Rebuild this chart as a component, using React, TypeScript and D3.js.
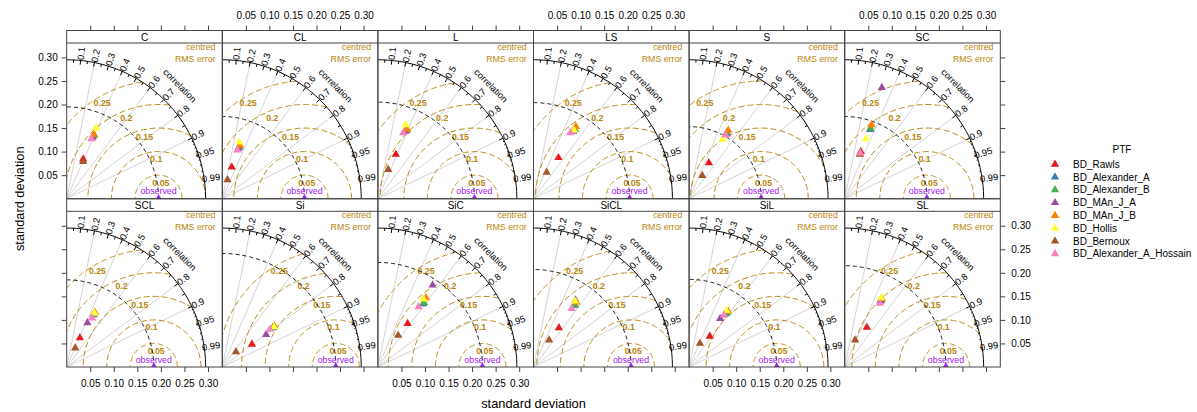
import React, { useEffect, useRef } from "react";
import * as d3 from "d3";

// soil texture classes, one Taylor diagram each
const soilClasses = ["C", "CL", "L", "LS", "S", "SC", "SCL", "Si", "SiC", "SiCL", "SiL", "SL"];

const ptfNames = [
  "BD_Rawls",
  "BD_Alexander_A",
  "BD_Alexander_B",
  "BD_MAn_J_A",
  "BD_MAn_J_B",
  "BD_Hollis",
  "BD_Bernoux",
  "BD_Alexander_A_Hossain",
];
const ptfColours = ["#E41A1C", "#377EB8", "#4DAF4A", "#984EA3", "#FF7F00", "#FFFF33", "#A65628", "#F781BF"];

// standard deviation of the observations, per soil class
const observedSd = [0.195, 0.1745, 0.205, 0.204, 0.153, 0.1745, 0.185, 0.241, 0.222, 0.207, 0.186, 0.215];

// model standard deviation and correlation, per soil class
const sdRawls = [0.091, 0.0699, 0.1014, 0.1019, 0.0868, 0.1056, 0.068, 0.0792, 0.1115, 0.099, 0.0785, 0.0963];
const corRawls = [0.385, 0.286, 0.375, 0.52, 0.484, 0.322, 0.412, 0.795, 0.565, 0.545, 0.56, 0.488];
const sdAlexA = [0.1456, 0.1157, 0.1569, 0.1694, 0.1604, 0.1566, 0.1248, 0.1354, 0.1648, 0.1573, 0.1373, 0.1607];
const corAlexA = [0.391, 0.311, 0.382, 0.508, 0.499, 0.345, 0.457, 0.79, 0.582, 0.553, 0.568, 0.479];
const sdAlexB = [0.1469, 0.116, 0.1586, 0.1713, 0.1626, 0.1598, 0.1261, 0.1368, 0.1684, 0.1586, 0.1401, 0.162];
const corAlexB = [0.395, 0.315, 0.391, 0.514, 0.498, 0.344, 0.46, 0.789, 0.582, 0.555, 0.571, 0.481];
const sdManA = [0.1412, 0.1123, 0.1543, 0.1658, 0.1568, 0.2489, 0.1038, 0.1158, 0.2091, 0.1676, 0.1223, 0.1593];
const corManA = [0.39, 0.303, 0.376, 0.507, 0.497, 0.317, 0.424, 0.803, 0.555, 0.531, 0.54, 0.477];
const sdManB = [0.1479, 0.1195, 0.1598, 0.1775, 0.1671, 0.167, 0.1306, 0.141, 0.1789, 0.1653, 0.1443, 0.1651];
const corManB = [0.392, 0.315, 0.385, 0.507, 0.497, 0.341, 0.459, 0.787, 0.57, 0.55, 0.575, 0.478];
const sdHollis = [0.1624, 0.1253, 0.1677, 0.1686, 0.1446, 0.1347, 0.1284, 0.139, 0.1734, 0.1654, 0.1437, 0.1659];
const corHollis = [0.384, 0.287, 0.352, 0.51, 0.491, 0.334, 0.46, 0.791, 0.557, 0.532, 0.55, 0.464];
const sdBernoux = [0.0864, 0.0415, 0.0658, 0.0626, 0.0564, 0.0993, 0.0439, 0.0432, 0.0796, 0.0659, 0.055, 0.0611];
const corBernoux = [0.405, 0.265, 0.334, 0.447, 0.496, 0.322, 0.41, 0.671, 0.54, 0.501, 0.418, 0.36];
const sdHossain = [0.1376, 0.1079, 0.1501, 0.1603, 0.1559, 0.1025, 0.1172, 0.1288, 0.1542, 0.1481, 0.1326, 0.1544];
const corHossain = [0.385, 0.297, 0.36, 0.487, 0.5, 0.322, 0.461, 0.784, 0.558, 0.547, 0.558, 0.486];

const modelSd = [sdRawls, sdAlexA, sdAlexB, sdManA, sdManB, sdHollis, sdBernoux, sdHossain];
const modelCor = [corRawls, corAlexA, corAlexB, corManA, corManB, corHollis, corBernoux, corHossain];

const axisTicks = [0.05, 0.1, 0.15, 0.2, 0.25, 0.3];
const rmsLevels = [0.05, 0.1, 0.15, 0.2, 0.25];
const corrGrid = [0.2, 0.4, 0.6, 0.8, 0.9];
const corrLabels = [0.1, 0.2, 0.3, 0.4, 0.5, 0.6, 0.7, 0.8, 0.9, 0.95, 0.99];

const W = 1197;
const H = 412;
const FONT = "'Liberation Sans', Arial, Helvetica, sans-serif";
const RMS_COL = "#B8860B";
const OBS_COL = "#A020F0";

const maxSd = 0.295;
const axisMax = maxSd * 1.12;
const panelLeft = 66.7;
const panelW = 155.6;
const rowTop = [30.5, 198.8];
const rowH = 168.2;
const stripH = 12.5;

export default function App() {
  const ref = useRef<SVGSVGElement>(null);

  useEffect(() => {
    const svg = d3.select(ref.current);
    svg.selectAll("*").remove();
    const defs = svg.append("defs");
    const tri = d3.symbol().type(d3.symbolTriangle).size(30);

    soilClasses.forEach((cls, i) => {
      const col = i % 6;
      const row = Math.floor(i / 6);
      const left = panelLeft + col * panelW;
      const top = rowTop[row];
      const bottom = top + rowH;
      const x = d3.scaleLinear().domain([0, axisMax]).range([left, left + panelW]);
      const y = d3.scaleLinear().domain([0, axisMax]).range([bottom, bottom - panelW]);
      const sdObs = observedSd[i];

      const clipId = "clip" + i;
      defs.append("clipPath").attr("id", clipId)
        .append("rect")
        .attr("x", left).attr("y", top + stripH)
        .attr("width", panelW).attr("height", rowH - stripH);

      const g = svg.append("g");
      const pg = g.append("g").attr("clip-path", `url(#${clipId})`);

      // correlation grid lines
      corrGrid.forEach((c) => {
        pg.append("line")
          .attr("x1", x(0)).attr("y1", y(0))
          .attr("x2", x(maxSd * c)).attr("y2", y(maxSd * Math.sqrt(1 - c * c)))
          .attr("stroke", "#cfcfcf").attr("stroke-width", 0.9);
      });

      const line = d3.line<[number, number]>().x((d) => x(d[0])).y((d) => y(d[1]));

      // centred RMS error arcs around the observed point
      rmsLevels.forEach((gm, k) => {
        const cStart = (maxSd * maxSd - sdObs * sdObs - gm * gm) / (2 * sdObs * gm);
        const tStart = cStart >= 1 ? 0 : Math.acos(Math.max(-1, cStart));
        const tEnd = gm > sdObs ? Math.acos(-sdObs / gm) : Math.PI;
        const pts: [number, number][] = d3.range(0, 121).map((j) => {
          const t = tStart + ((tEnd - tStart) * j) / 120;
          return [sdObs + gm * Math.cos(t), gm * Math.sin(t)];
        });
        pg.append("path").attr("d", line(pts))
          .attr("fill", "none").attr("stroke", RMS_COL)
          .attr("stroke-width", 1).attr("stroke-dasharray", "6,3");
        const a = (49 + 5 * k) * 0.03;
        pg.append("text")
          .attr("x", x(sdObs + gm * Math.cos(a)))
          .attr("y", y(gm * Math.sin(a)) + 7.5)
          .attr("text-anchor", "middle").attr("dominant-baseline", "central")
          .attr("font-size", 8.8).attr("font-weight", "bold")
          .attr("fill", RMS_COL).text(String(gm));
      });

      // observed standard deviation arc
      const obsArc: [number, number][] = d3.range(0, 91).map((j) => {
        const t = (Math.PI / 2) * (j / 90);
        return [sdObs * Math.cos(t), sdObs * Math.sin(t)];
      });
      pg.append("path").attr("d", line(obsArc))
        .attr("fill", "none").attr("stroke", "#000")
        .attr("stroke-width", 0.9).attr("stroke-dasharray", "4,3");

      // outer arc
      const outer: [number, number][] = d3.range(0, 91).map((j) => {
        const t = (Math.PI / 2) * (j / 90);
        return [maxSd * Math.cos(t), maxSd * Math.sin(t)];
      });
      pg.append("path").attr("d", line(outer))
        .attr("fill", "none").attr("stroke", "#000").attr("stroke-width", 1);

      const tickSeg = (c: number, inner: number) => {
        const t = Math.acos(c);
        pg.append("line")
          .attr("x1", x(maxSd * Math.cos(t))).attr("y1", y(maxSd * Math.sin(t)))
          .attr("x2", x(inner * maxSd * Math.cos(t))).attr("y2", y(inner * maxSd * Math.sin(t)))
          .attr("stroke", "#000").attr("stroke-width", 1);
      };
      d3.range(1, 10).forEach((j) => tickSeg(j / 10, 0.97));
      d3.range(0, 10).forEach((j) => tickSeg(0.05 + j / 10, 0.98));
      d3.range(91, 100).forEach((j) => tickSeg(j / 100, 0.99));

      // correlation labels
      corrLabels.forEach((c) => {
        const t = Math.acos(c);
        const px = x(1.05 * maxSd * Math.cos(t));
        const py = y(1.05 * maxSd * Math.sin(t));
        pg.append("text")
          .attr("transform", `translate(${px},${py}) rotate(${(-t * 180) / Math.PI})`)
          .attr("text-anchor", "middle").attr("dominant-baseline", "central")
          .attr("font-size", 9.3).attr("fill", "#000").text(String(c));
      });
      const cp = [x(1.15 * maxSd * Math.SQRT1_2), y(1.15 * maxSd * Math.SQRT1_2)];
      pg.append("text")
        .attr("transform", `translate(${cp[0]},${cp[1]}) rotate(45)`)
        .attr("text-anchor", "middle").attr("dominant-baseline", "central")
        .attr("font-size", 9.2).attr("fill", "#000").text("correlation");

      pg.append("text")
        .attr("x", x(1.1 * maxSd) - 4).attr("y", y(1.05 * maxSd) - 6.3)
        .attr("text-anchor", "end").attr("dominant-baseline", "central")
        .attr("font-size", 8.8).attr("fill", RMS_COL).text("centred");
      pg.append("text")
        .attr("x", x(1.1 * maxSd) - 4).attr("y", y(1.05 * maxSd) + 6.3)
        .attr("text-anchor", "end").attr("dominant-baseline", "central")
        .attr("font-size", 8.8).attr("fill", RMS_COL).text("RMS error");

      // observed point
      pg.append("path").attr("d", tri())
        .attr("transform", `translate(${x(sdObs)},${y(0)})`).attr("fill", OBS_COL);
      pg.append("text")
        .attr("x", x(sdObs)).attr("y", y(0) - 7.5)
        .attr("text-anchor", "middle").attr("dominant-baseline", "central")
        .attr("font-size", 8.8).attr("fill", OBS_COL).text("observed");

      // model points
      ptfNames.forEach((_, j) => {
        const sd = modelSd[j][i];
        const r = modelCor[j][i];
        pg.append("path").attr("d", tri())
          .attr("transform", `translate(${x(sd * r)},${y(sd * Math.sqrt(1 - r * r))})`)
          .attr("fill", ptfColours[j]);
      });

      // frame and strip
      g.append("rect")
        .attr("x", left).attr("y", top).attr("width", panelW).attr("height", rowH)
        .attr("fill", "none").attr("stroke", "#444").attr("stroke-width", 1);
      g.append("line")
        .attr("x1", left).attr("x2", left + panelW)
        .attr("y1", top + stripH).attr("y2", top + stripH)
        .attr("stroke", "#444").attr("stroke-width", 1);
      g.append("text")
        .attr("x", left + panelW / 2).attr("y", top + stripH / 2 + 0.5)
        .attr("text-anchor", "middle").attr("dominant-baseline", "central")
        .attr("font-size", 10).attr("fill", "#000").text(cls);

      // axes
      const fmt = d3.format(".2f");
      const styleAxis = (ag: any) => {
        ag.select(".domain").remove();
        ag.attr("font-family", FONT).attr("font-size", 10);
        ag.selectAll("line").attr("stroke", "#444");
        ag.selectAll("text").attr("fill", "#000");
      };
      if (row === 0) {
        const ax = d3.axisTop(x).tickValues(axisTicks).tickSize(5).tickPadding(7)
          .tickFormat((d) => (col % 2 === 1 ? fmt(d as number) : ""));
        g.append("g").attr("transform", `translate(0,${top})`).call(ax).call(styleAxis);
      } else {
        const ax = d3.axisBottom(x).tickValues(axisTicks).tickSize(5).tickPadding(7.5)
          .tickFormat((d) => (col % 2 === 0 ? fmt(d as number) : ""));
        g.append("g").attr("transform", `translate(0,${bottom})`).call(ax).call(styleAxis);
      }
      if (col === 0) {
        const ay = d3.axisLeft(y).tickValues(axisTicks).tickSize(5).tickPadding(4)
          .tickFormat((d) => (row === 0 ? fmt(d as number) : ""));
        g.append("g").attr("transform", `translate(${left},0)`).call(ay).call(styleAxis);
      }
      if (col === 5) {
        const ay = d3.axisRight(y).tickValues(axisTicks).tickSize(5).tickPadding(6)
          .tickFormat((d) => (row === 1 ? fmt(d as number) : ""));
        g.append("g").attr("transform", `translate(${left + panelW},0)`).call(ay).call(styleAxis);
      }
    });

    // axis titles
    svg.append("text")
      .attr("x", panelLeft + 3 * panelW).attr("y", 403)
      .attr("text-anchor", "middle").attr("dominant-baseline", "central")
      .attr("font-size", 12.8).attr("fill", "#000").text("standard deviation");
    svg.append("text")
      .attr("transform", `translate(19,${(rowTop[0] + rowTop[1] + rowH) / 2}) rotate(-90)`)
      .attr("text-anchor", "middle").attr("dominant-baseline", "central")
      .attr("font-size", 12.8).attr("fill", "#000").text("standard deviation");

    // legend
    const lg = svg.append("g");
    lg.append("text")
      .attr("x", 1122).attr("y", 149)
      .attr("text-anchor", "middle").attr("dominant-baseline", "central")
      .attr("font-size", 10).attr("fill", "#000").text("PTF");
    ptfNames.forEach((name, j) => {
      const ly = 164.3 + j * 12.8;
      lg.append("path").attr("d", tri())
        .attr("transform", `translate(1055,${ly})`).attr("fill", ptfColours[j]);
      lg.append("text")
        .attr("x", 1073).attr("y", ly)
        .attr("dominant-baseline", "central")
        .attr("font-size", 10).attr("fill", "#000").text(name);
    });
  }, []);

  return (
    <svg
      ref={ref}
      width={W}
      height={H}
      fontFamily={FONT}
      style={{ position: "absolute", left: 0, top: 0, background: "#fff" }}
    />
  );
}
